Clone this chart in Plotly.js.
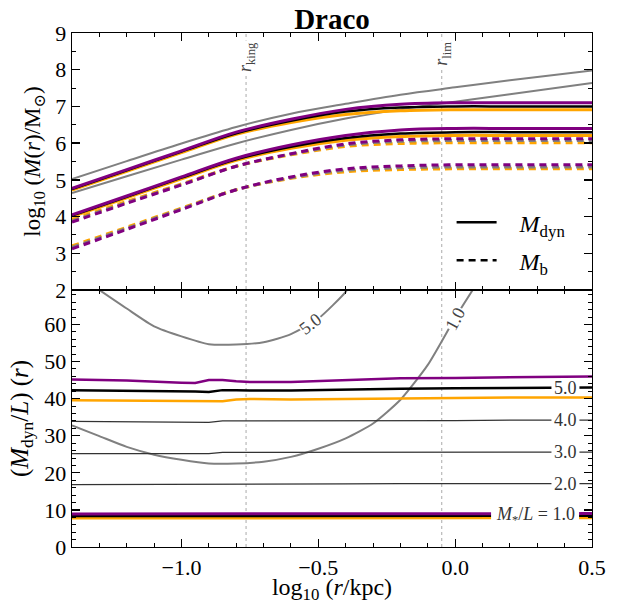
<!DOCTYPE html>
<html>
<head>
<meta charset="utf-8">
<script src="https://cdn.plot.ly/plotly-3.0.1.min.js"></script>
<style>html,body{margin:0;padding:0;background:#fff;}#chart{width:618px;height:604px;}</style>
</head>
<body>
<div id="chart"></div>
<script>
// ---------- data ----------
const rKing = -0.764;
const rLim = -0.049;

// top panel: log10 M(r)
const xTop = [-1.4, -1.2, -1.0, -0.8, -0.6, -0.4, -0.2, 0.0, 0.2, 0.5];
const grayUpper   = [5.02, 5.51, 5.99, 6.44, 6.80, 7.07, 7.32, 7.52, 7.71, 7.98];
const grayLower   = [4.64, 5.10, 5.55, 5.99, 6.36, 6.67, 6.92, 7.13, 7.33, 7.64];
const purpleHiDyn = [4.77, 5.28, 5.79, 6.30, 6.65, 6.92, 7.06, 7.10, 7.10, 7.10];
const blackHiDyn  = [4.75, 5.26, 5.77, 6.27, 6.61, 6.86, 6.97, 7.00, 7.00, 7.00];
const orangeHiDyn = [4.72, 5.23, 5.74, 6.24, 6.56, 6.78, 6.88, 6.91, 6.91, 6.91];
const purpleLoDyn = [4.05, 4.56, 5.08, 5.59, 5.95, 6.21, 6.36, 6.40, 6.40, 6.40];
const blackLoDyn  = [4.03, 4.54, 5.06, 5.56, 5.90, 6.14, 6.26, 6.30, 6.30, 6.30];
const orangeLoDyn = [4.00, 4.51, 5.03, 5.53, 5.86, 6.08, 6.18, 6.21, 6.21, 6.21];
const grayHiB     = [3.88, 4.38, 4.87, 5.37, 5.70, 5.95, 6.05, 6.07, 6.07, 6.07];
const purpleHiB   = [3.85, 4.36, 4.86, 5.37, 5.71, 5.98, 6.09, 6.12, 6.12, 6.12];
const orangeHiB   = [3.92, 4.41, 4.89, 5.37, 5.68, 5.91, 5.99, 6.01, 6.01, 6.01];
const grayLoB     = [3.16, 3.68, 4.21, 4.73, 5.06, 5.26, 5.33, 5.35, 5.35, 5.35];
const purpleLoB   = [3.12, 3.65, 4.19, 4.73, 5.08, 5.30, 5.38, 5.41, 5.41, 5.41];
const orangeLoB   = [3.20, 3.71, 4.23, 4.73, 5.04, 5.22, 5.28, 5.30, 5.30, 5.30];

// bottom panel: (M_dyn/L)(r)
const xBot = [-1.4, -1.2, -1.0, -0.95, -0.9, -0.85, -0.8, -0.75, -0.6, -0.4, -0.2, 0.0, 0.2, 0.5];
const mlPurple = [45.2, 44.9, 44.3, 44.2, 45.0, 45.0, 44.7, 44.5, 44.5, 45.1, 45.5, 45.6, 45.8, 46.0];
const mlBlack  = [42.3, 42.2, 42.0, 41.9, 41.8, 42.3, 42.3, 42.2, 42.2, 42.5, 42.7, 42.8, 42.9, 43.0];
const mlOrange = [39.6, 39.5, 39.4, 39.3, 39.3, 39.3, 39.8, 39.9, 39.8, 40.0, 40.2, 40.2, 40.3, 40.3];
const ml4 = [33.9, 33.8, 33.7, 33.7, 33.6, 34.0, 34.0, 34.0, 33.9, 34.0, 34.1, 34.1, 34.2, 34.2];
const ml3 = [25.2, 25.2, 25.2, 25.2, 25.2, 25.5, 25.5, 25.5, 25.5, 25.5, 25.5, 25.6, 25.6, 25.6];
const ml2 = [16.8, 16.8, 16.8, 16.8, 16.8, 17.0, 17.0, 17.0, 17.0, 17.0, 17.1, 17.1, 17.1, 17.1];
const ml1Purple = [8.9, 8.9, 8.9, 8.9, 8.9, 9.0, 9.0, 9.0, 9.0, 9.0, 9.0, 9.0, 9.0, 9.0];
const ml1Black  = [8.4, 8.4, 8.4, 8.4, 8.4, 8.4, 8.5, 8.5, 8.5, 8.5, 8.5, 8.5, 8.5, 8.5];
const ml1Orange = [7.8, 7.8, 7.8, 7.8, 7.8, 7.8, 7.9, 7.9, 7.9, 7.9, 7.9, 7.9, 7.9, 7.9];

// gray contours
const c5x = [-1.31, -1.2, -1.1, -1.0, -0.9, -0.8, -0.7, -0.6, -0.5, -0.4, -0.39];
const c5y = [69.8, 64.3, 59.5, 56.8, 54.7, 54.6, 55.2, 57.4, 61.6, 68.8, 70.2];
const c1x = [-1.4, -1.3, -1.2, -1.1, -1.0, -0.9, -0.8, -0.7, -0.6, -0.5, -0.4, -0.3, -0.2, -0.1, 0.0, 0.07];
const c1y = [32.8, 29.9, 27.0, 24.9, 23.5, 22.5, 22.5, 23.0, 24.3, 26.5, 29.3, 33.3, 39.7, 49.1, 61.8, 70.0];

// contour labels
const lineLabels = ['5.0', '4.0', '3.0', '2.0'];
const lineLabelY = [43.0, 34.2, 25.6, 17.1];
const mlLabelY = 8.45;

// ---------- styling ----------
const PURPLE = '#800080', ORANGE = '#FFA500', GRAY = '#808080', BLACK = '#000000';
const FONT = 'Liberation Serif, DejaVu Serif, serif';
const DASH = '7px,5px';
const NB = '\u00A0';

const traces = [];
function addTop(y, color, width, dash) {
  traces.push({x: xTop, y: y, xaxis: 'x2', yaxis: 'y2', mode: 'lines', showlegend: false,
    hoverinfo: 'skip', line: {color: color, width: width, dash: dash || 'solid', shape: 'spline', smoothing: 1}});
}
function addBot(x, y, color, width, shape) {
  traces.push({x: x, y: y, xaxis: 'x', yaxis: 'y', mode: 'lines', showlegend: false,
    hoverinfo: 'skip', line: {color: color, width: width, shape: shape || 'linear', smoothing: 0.6}});
}

// top panel
addTop(grayUpper, GRAY, 2);
addTop(grayLower, GRAY, 2);
addTop(orangeHiDyn, ORANGE, 3);
addTop(blackHiDyn, BLACK, 2.5);
addTop(purpleHiDyn, PURPLE, 3);
addTop(orangeLoDyn, ORANGE, 3);
addTop(blackLoDyn, BLACK, 2.5);
addTop(purpleLoDyn, PURPLE, 3);
addTop(orangeHiB, ORANGE, 3, DASH);
addTop(grayHiB, GRAY, 3, DASH);
addTop(purpleHiB, PURPLE, 3, DASH);
addTop(orangeLoB, ORANGE, 3, DASH);
addTop(grayLoB, GRAY, 3, DASH);
addTop(purpleLoB, PURPLE, 3, DASH);

// bottom panel
addBot(c5x, c5y, GRAY, 2, 'spline');
addBot(c1x, c1y, GRAY, 2, 'spline');
addBot(xBot, ml2, '#333', 1.3);
addBot(xBot, ml3, '#333', 1.3);
addBot(xBot, ml4, '#333', 1.3);
addBot(xBot, mlOrange, ORANGE, 2.5);
addBot(xBot, mlBlack, BLACK, 2.5);
addBot(xBot, mlPurple, PURPLE, 2.5);
addBot(xBot, ml1Orange, ORANGE, 3);
addBot(xBot, ml1Black, BLACK, 3);
addBot(xBot, ml1Purple, PURPLE, 3);

// legend entries
traces.push({x: [null], y: [null], xaxis: 'x2', yaxis: 'y2', mode: 'lines', name: NB + NB + NB + '<i>M</i><sub>dyn</sub>',
  legendgroup: 'a', line: {color: BLACK, width: 2.5}});
traces.push({x: [null], y: [null], xaxis: 'x2', yaxis: 'y2', mode: 'lines', name: NB + NB + NB + '<i>M</i><sub>b</sub>',
  legendgroup: 'b', line: {color: BLACK, width: 2.5, dash: DASH}});

const axisCommon = {
  showline: true, linecolor: '#000', linewidth: 1.3, mirror: 'allticks',
  ticks: 'inside', ticklen: 8, tickwidth: 1.3, tickcolor: '#000',
  showgrid: false, zeroline: false,
  tickfont: {family: FONT, size: 22, color: '#000'}
};

const LX = 0.403, MLX = 0.292;
const annotations = [];
const shapes = [];
// white gaps in the contour lines where the labels sit
lineLabels.forEach((t, i) => {
  shapes.push({type: 'rect', layer: 'above', xref: 'x', yref: 'y', xsizemode: 'pixel', ysizemode: 'pixel',
    xanchor: LX, yanchor: lineLabelY[i], x0: -14, x1: 14, y0: -5, y1: 5, fillcolor: '#fff', line: {width: 0}});
  annotations.push({x: LX, y: lineLabelY[i], xref: 'x', yref: 'y', text: t, showarrow: false,
    font: {family: FONT, size: 18, color: '#333'}});
});
shapes.push({type: 'rect', layer: 'above', xref: 'x', yref: 'y', xsizemode: 'pixel', ysizemode: 'pixel',
  xanchor: MLX, yanchor: mlLabelY, x0: -44, x1: 44, y0: -6, y1: 6, fillcolor: '#fff', line: {width: 0}});
annotations.push({x: MLX, y: mlLabelY, xref: 'x', yref: 'y', text: '<i>M</i><sub>*</sub>/<i>L</i> = 1.0', showarrow: false,
  font: {family: FONT, size: 18, color: '#333'}});
annotations.push({x: -0.53, y: 60.2, xref: 'x', yref: 'y', text: '5.0', showarrow: false, textangle: -38,
  font: {family: FONT, size: 18, color: '#444'}, bgcolor: '#fff', borderpad: 0});
annotations.push({x: 0.0, y: 61.5, xref: 'x', yref: 'y', text: '1.0', showarrow: false, textangle: -62,
  font: {family: FONT, size: 18, color: '#444'}, bgcolor: '#fff', borderpad: 0});
annotations.push({x: rKing, y: 9, xref: 'x2', yref: 'y2', text: '<i>r</i><sub>king</sub>', showarrow: false,
  textangle: -90, yanchor: 'top', yshift: -7, font: {family: FONT, size: 18, color: '#444'}, bgcolor: '#fff', borderpad: 1});
annotations.push({x: rLim, y: 9, xref: 'x2', yref: 'y2', text: '<i>r</i><sub>lim</sub>', showarrow: false,
  textangle: -90, yanchor: 'top', yshift: -7, font: {family: FONT, size: 18, color: '#444'}, bgcolor: '#fff', borderpad: 1});

[rKing, rLim].forEach(v => shapes.push({type: 'line', xref: 'x', yref: 'paper', x0: v, x1: v, y0: 0, y1: 1,
  line: {color: '#aaa', width: 1, dash: 'dot'}, layer: 'below'}));

const layout = {
  width: 618, height: 604,
  margin: {l: 72, r: 26, t: 33, b: 57},
  paper_bgcolor: '#fff', plot_bgcolor: 'rgba(0,0,0,0)',
  font: {family: FONT, color: '#000'},
  title: {text: '<b>Draco</b>', font: {family: FONT, size: 29, color: '#000'},
    xref: 'paper', x: 0.5, xanchor: 'center', yref: 'container', y: 0.968, yanchor: 'middle'},
  showlegend: true,
  legend: {x: 0.73, y: 0.675, xanchor: 'left', yanchor: 'top', bgcolor: 'rgba(0,0,0,0)',
    font: {family: FONT, size: 24, color: '#000'}, tracegroupgap: 4, itemwidth: 40},
  xaxis: Object.assign({}, axisCommon, {domain: [0, 1], anchor: 'y', range: [-1.4, 0.5],
    tick0: -1, dtick: 0.5, tickformat: '.1f',
    minor: {ticks: 'inside', dtick: 0.1, tick0: -1, ticklen: 4, tickwidth: 1, tickcolor: '#000'},
    title: {text: 'log<sub>10</sub> (<i>r</i>/kpc)', font: {family: FONT, size: 24}, standoff: 9}}),
  xaxis2: Object.assign({}, axisCommon, {domain: [0, 1], anchor: 'y2', matches: 'x', range: [-1.4, 0.5],
    tick0: -1, dtick: 0.5, showticklabels: false,
    minor: {ticks: 'inside', dtick: 0.1, tick0: -1, ticklen: 4, tickwidth: 1, tickcolor: '#000'}}),
  yaxis: Object.assign({}, axisCommon, {domain: [0, 0.5], anchor: 'x', range: [0, 69.3],
    tick0: 0, dtick: 10,
    minor: {ticks: 'inside', dtick: 2, tick0: 0, ticklen: 4, tickwidth: 1, tickcolor: '#000'},
    title: {text: '(<i>M</i><sub>dyn</sub>/<i>L</i>)' + NB + '(<i>r</i>)', font: {family: FONT, size: 25}, standoff: 8}}),
  yaxis2: Object.assign({}, axisCommon, {domain: [0.5, 1], anchor: 'x2', range: [2, 9],
    tick0: 2, dtick: 1,
    minor: {ticks: 'inside', dtick: 0.5, tick0: 2, ticklen: 4, tickwidth: 1, tickcolor: '#000'},
    title: {text: 'log<sub>10</sub> (<i>M</i>(<i>r</i>)/M<sub>⊙</sub>)', font: {family: FONT, size: 23}, standoff: 8}}),
  annotations: annotations,
  shapes: shapes
};

Plotly.newPlot('chart', traces, layout, {staticPlot: true, displayModeBar: false});
</script>
</body>
</html>
